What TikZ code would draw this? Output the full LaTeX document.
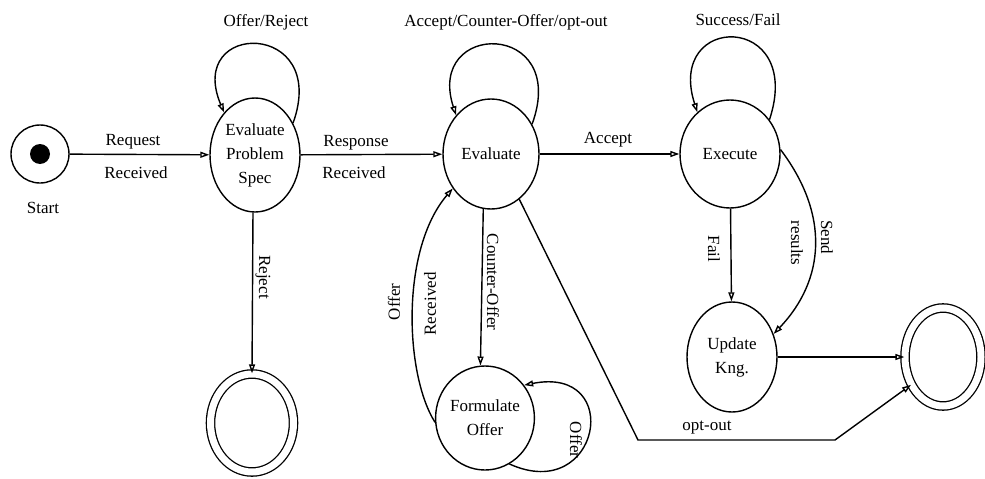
\documentclass[tikz,border=0pt]{standalone}
\usepackage{fontspec}
\setmainfont{Liberation Serif}
\usetikzlibrary{arrows.meta,shapes.geometric}
\begin{document}
\begin{tikzpicture}[x=1pt,y=-1pt,
  line width=1.4pt,
  font=\fontsize{17}{24}\selectfont,
  state/.style={draw,ellipse,inner sep=0pt,align=center},
  final/.style={draw,ellipse,inner sep=0pt,double distance=7pt,line width=1.3pt},
  edge/.style={-{Triangle[open,length=9pt,width=6pt]}},
  lbl/.style={inner sep=1pt}]
\useasboundingbox (0,0) rectangle (985,479);

% states
\node[draw,circle,minimum size=58pt] (start) at (40,154) {};
\node[fill,circle,minimum size=20pt,inner sep=0pt] (dot) at (40,154) {};
\node[lbl] (startlbl) at (43,208) {Start};

\node[state,minimum width=90pt,minimum height=114pt] (eps) at (255,155) {Evaluate\\Problem\\Spec};
\node[state,minimum width=96pt,minimum height=110pt] (eval) at (491,154) {Evaluate};
\node[state,minimum width=100pt,minimum height=108pt] (exec) at (730,154) {Execute};
\node[state,minimum width=90pt,minimum height=110pt] (upd) at (732,357) {Update\\Kng.};
\node[state,minimum width=94pt,minimum height=104pt] (fo) at (485,418) {Formulate\\Offer};

\node[final,minimum width=83pt,minimum height=98pt] (rej) at (252,423) {};
\node[final,minimum width=76pt,minimum height=98pt] (fin) at (943,357) {};

% transitions
\draw[edge] (start) -- (eps);
\node[lbl] (l1) at (133,142) {Request};
\node[lbl] (l2) at (136,173) {Received};

\draw[edge] (eps) -- (eval);
\node[lbl] (l3) at (356,143) {Response};
\node[lbl] (l4) at (354,173) {Received};

\draw[edge] (eval) -- (exec);
\node[lbl] (l5) at (608,140) {Accept};

% self loops
\draw[edge] (eps.40) .. controls (330,20) and (185,20) .. (eps.126);
\node[lbl] (l6) at (266,22) {Offer/Reject};

\draw[edge] (eval.36) .. controls (570,20) and (425,20) .. (eval.132);
\node[lbl] (l7) at (506,22) {Accept/Counter-Offer/opt-out};

\draw[edge] (exec.41) .. controls (805,12) and (665,12) .. (exec.128);
\node[lbl] (l8) at (738,20) {Success/Fail};

\draw[edge] (fo.298) .. controls (600,505) and (625,365) .. (fo.40);
\node[lbl,rotate=-90] (l9) at (576,440) {Offer};

% downward transitions
\draw[edge] (eps.268) -- (rej.north);
\node[lbl,rotate=-90] (l10) at (263,277) {Reject};

\draw[edge] (eval.262) -- (fo.95);
\node[lbl,rotate=-90] (l11) at (493,282) {Counter-Offer};

\draw[edge] (fo.185) .. controls (405,375) and (400,250) .. (eval.222);
\node[lbl,rotate=90] (l12) at (394,302) {Offer};
\node[lbl,rotate=90] (l13) at (430,304) {Received};

\draw[edge] (exec) -- (upd);
\node[lbl,rotate=-90] (l14) at (714,249) {Fail};

\draw[edge] (exec.5) .. controls (830,215) and (825,280) .. (upd.29);
\node[lbl,rotate=-90] (l15) at (827,237) {Send};
\node[lbl,rotate=-90] (l16) at (797,243) {results};

\draw[edge] (upd) -- (fin);

% opt-out path
\coordinate (oc1) at (638,440);
\coordinate (oc2) at (835,440);
\draw[edge] (eval.302) -- (oc1) -- (oc2) -- (fin.221);
\node[lbl] (l17) at (707,428) {opt-out};
\end{tikzpicture}
\end{document}
